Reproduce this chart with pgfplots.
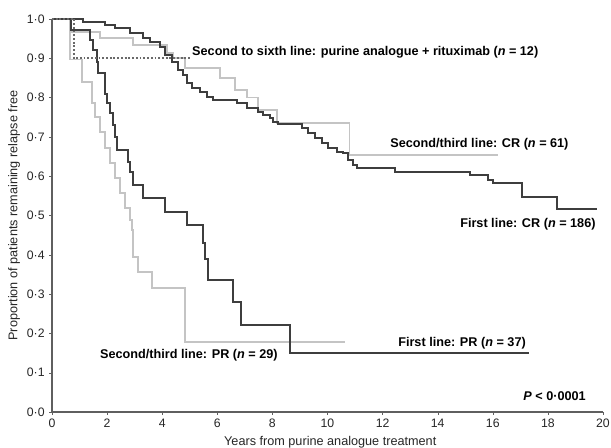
\documentclass[border=0pt]{standalone}
\usepackage{fontspec}
\setmainfont{Liberation Sans}
\usepackage{pgfplots}
\pgfplotsset{compat=1.18}
\definecolor{cDark}{RGB}{62,62,62}
\definecolor{cLight}{RGB}{196,196,196}
\definecolor{cDot}{RGB}{105,105,105}
\definecolor{cAxis}{RGB}{95,95,95}
\newcommand{\lbl}{\bfseries\fontsize{9.5}{11}\selectfont}

\begin{document}
\begin{tikzpicture}
\begin{axis}[
  name=ax, scale only axis, width=413.25pt, height=294.75pt,
  xmin=0, xmax=20, ymin=0, ymax=1,
  axis x line=bottom, axis y line=left,
  axis line style={-, cAxis, line width=0.9pt},
  xtick={0,2,...,20},
  ytick={0,0.1,0.2,0.3,0.4,0.5,0.6,0.7,0.8,0.9,1},
  yticklabels={0·0,0·1,0·2,0·3,0·4,0·5,0·6,0·7,0·8,0·9,1·0},
  tick align=outside, major tick length=2pt, tick style={cAxis},
  tick label style={font=\fontsize{9.2}{11}\selectfont, text=black!85},
  /pgf/number format/assume math mode=true,
  xlabel={Years from purine analogue treatment},
  ylabel={Proportion of patients remaining relapse free},
  label style={font=\fontsize{9.5}{11}\selectfont, text=black!85},
  xlabel style={at={(axis description cs:0.505,0)}, anchor=north, yshift=-15pt},
  ylabel style={at={(axis description cs:-0.069,0.5)}, anchor=center},
]
% second/third line PR
\addplot[const plot, cLight, line width=1.3pt] coordinates {
  (0,1) (0.65,0.897) (1.08,0.84) (1.44,0.786) (1.56,0.75) (1.74,0.713)
  (1.92,0.672) (2.10,0.634) (2.29,0.595) (2.47,0.557) (2.65,0.519)
  (2.83,0.489) (2.90,0.463) (2.95,0.395) (3.13,0.357) (3.62,0.315)
  (4.83,0.179) (10.63,0.179)};
% second/third line CR
\addplot[const plot, cLight, line width=1.3pt] coordinates {
  (0,1) (0.68,0.967) (1.74,0.951) (2.95,0.934) (4.17,0.913) (4.39,0.90)
  (4.83,0.875) (6.10,0.85) (6.64,0.82) (7.07,0.80) (7.48,0.768)
  (8.17,0.735) (10.8,0.654) (16.2,0.654)};
% first line PR
\addplot[const plot, cDark, line width=1.5pt] coordinates {
  (0,1) (0.68,0.973) (1.38,0.946) (1.50,0.92) (1.62,0.89) (1.68,0.862)
  (1.92,0.81) (1.98,0.786) (2.10,0.76) (2.20,0.73) (2.29,0.70)
  (2.35,0.667) (2.76,0.637) (2.83,0.61) (2.95,0.578) (3.30,0.545)
  (4.10,0.51) (4.89,0.476) (5.47,0.43) (5.55,0.39) (5.67,0.336)
  (6.58,0.28) (6.86,0.221) (8.64,0.150) (17.3,0.150)};
% first line CR
\addplot[const plot, cDark, line width=1.5pt] coordinates {
  (0,1) (1.13,0.993) (1.92,0.986) (2.29,0.976) (2.83,0.964) (3.30,0.951)
  (3.56,0.942) (3.92,0.930) (4.10,0.908) (4.34,0.891) (4.57,0.870)
  (4.75,0.858) (4.90,0.836) (5.08,0.824) (5.37,0.814) (5.63,0.802)
  (5.84,0.794) (6.72,0.786) (7.08,0.773) (7.48,0.764) (7.66,0.756)
  (7.91,0.748) (8.02,0.739) (8.20,0.733) (9.07,0.722) (9.29,0.709)
  (9.55,0.697) (9.80,0.684) (10.02,0.671) (10.34,0.662) (10.56,0.658)
  (10.74,0.641) (10.93,0.628) (11.07,0.620) (12.45,0.611) (15.17,0.603)
  (15.83,0.590) (16.0,0.582) (17.06,0.548) (18.33,0.516) (19.8,0.516)};
% second to sixth line, purine analogue + rituximab
\addplot[const plot, cDot, line width=1.4pt, dash pattern=on 1.4pt off 1.4pt] coordinates {
  (0,1) (0.8,0.9) (5.0,0.9)};

\node[anchor=west, inner sep=0pt] at (axis cs:5.08,0.915) {\lbl Second to sixth line: purine analogue + rituximab (\textit{n} = 12)};
\node[anchor=west, inner sep=0pt] at (axis cs:12.27,0.682) {\lbl Second/third line: CR (\textit{n} = 61)};
\node[anchor=west, inner sep=0pt] at (axis cs:14.81,0.478) {\lbl First line: CR (\textit{n} = 186)};
\node[anchor=west, inner sep=0pt] at (axis cs:12.56,0.176) {\lbl First line: PR (\textit{n} = 37)};
\node[anchor=west, inner sep=0pt] at (axis cs:1.74,0.145) {\lbl Second/third line: PR (\textit{n} = 29)};
\node[anchor=west, inner sep=0pt] at (axis cs:17.1,0.041) {\lbl\textit{P} < 0·0001};
\end{axis}
\pgfresetboundingbox
\path (ax.south west) ++(-39pt,-26.25pt) coordinate (bl);
\path[use as bounding box] (bl) rectangle ++(458.25pt,335.25pt);
\end{tikzpicture}
\end{document}
